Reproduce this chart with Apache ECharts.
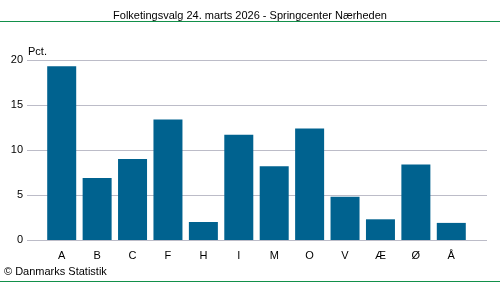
<!DOCTYPE html>
<html><head><meta charset="utf-8">
<script src="https://cdn.jsdelivr.net/npm/echarts@6/dist/echarts.min.js"></script>
<style>html,body{margin:0;padding:0;background:#fff}#c{width:500px;height:282px}</style>
</head><body><div id="c"></div>
<script>
const title = "Folketingsvalg 24. marts 2026 - Springcenter Nærheden";
const categories = ["A","B","C","F","H","I","M","O","V","Æ","Ø","Å"];
const values = [19.3, 6.9, 9.0, 13.4, 2.0, 11.7, 8.2, 12.4, 4.8, 2.3, 8.4, 1.9];
const yTicks = [0, 5, 10, 15, 20];
const unitLabel = "Pct.";
const credit = "© Danmarks Statistik";

const font = "Liberation Sans, Arial, sans-serif";
const chart = echarts.init(document.getElementById('c'), null, {renderer: 'canvas'});
chart.setOption({
  animation: false,
  graphic: [
    {type: 'text', left: 'center', top: 10, style: {text: title, font: '11px ' + font, fill: '#000'}},
    {type: 'rect', shape: {x: 0, y: 21, width: 500, height: 1}, style: {fill: '#12904a'}},
    {type: 'rect', shape: {x: 0, y: 281, width: 500, height: 1}, style: {fill: '#12904a'}},
    {type: 'text', left: 4, top: 266, style: {text: credit, font: '11px ' + font, fill: '#000'}},
    {type: 'text', left: 28, top: 46, style: {text: unitLabel, font: '11px ' + font, fill: '#000'}}
  ],
  grid: [
    {left: 27, right: 13, top: 60, bottom: 42},
    {left: 44, right: 31, top: 60, bottom: 42}
  ],
  xAxis: [
    {gridIndex: 0, type: 'value', show: false, min: 0, max: 1},
    {gridIndex: 1, type: 'category', data: categories,
     axisLine: {show: false}, axisTick: {show: false},
     axisLabel: {color: '#000', fontSize: 11, fontFamily: font, margin: 10}}
  ],
  yAxis: [
    {gridIndex: 0, type: 'value', min: yTicks[0], max: yTicks[yTicks.length-1], interval: 5,
     axisLine: {show: false}, axisTick: {show: false},
     axisLabel: {color: '#000', fontSize: 11, fontFamily: font, margin: 4},
     splitLine: {lineStyle: {color: '#bcbcc8', width: 1}}},
    {gridIndex: 1, type: 'value', min: yTicks[0], max: yTicks[yTicks.length-1], interval: 5, show: false}
  ],
  series: [{
    type: 'bar', xAxisIndex: 1, yAxisIndex: 1, data: values,
    barWidth: 29, itemStyle: {color: '#00628f'}
  }]
});
</script></body></html>
